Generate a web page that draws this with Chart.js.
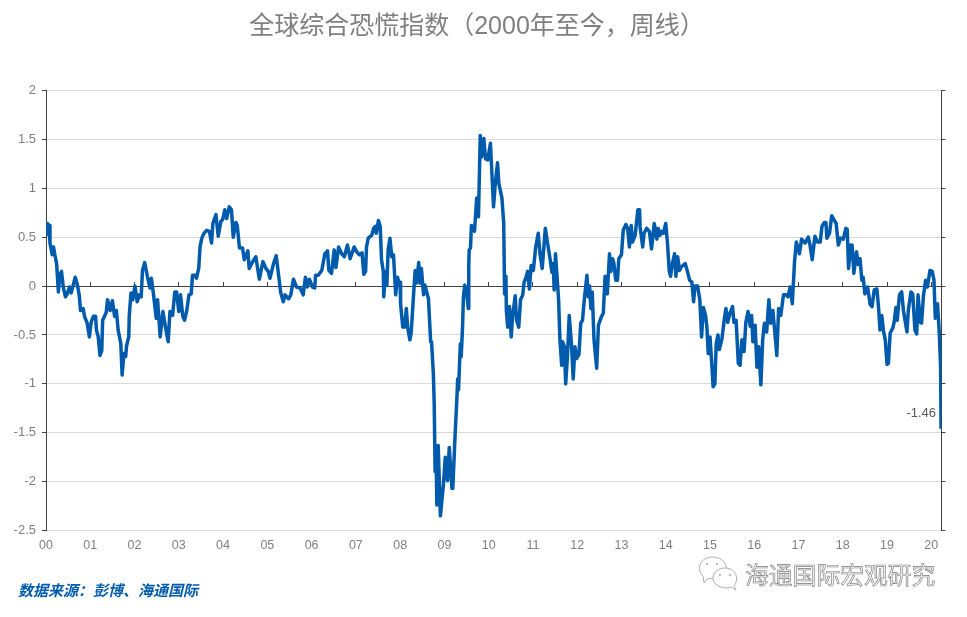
<!DOCTYPE html>
<html>
<head>
<meta charset="utf-8">
<title>全球综合恐慌指数</title>
<script src="https://cdn.jsdelivr.net/npm/chart.js@4"></script>
<style>
  body { margin: 0; background: #fff; }
  #wrap { position: relative; width: 967px; height: 617px; overflow: hidden; }
  #chart { position: absolute; left: 0; top: 0; }
  .chart-title { position: absolute; left: 0; width: 954px; top: 5px; text-align: center; font: 25px "Liberation Sans", "Noto Sans CJK SC", sans-serif; color: #7f7f7f; white-space: nowrap; }
  .source { position: absolute; left: 18px; top: 579px; font: italic bold 15px "Noto Sans CJK SC", sans-serif; color: #005bac; white-space: nowrap; }
  .mark { position: absolute; left: 745px; top: 556px; font: 23.8px "Noto Sans CJK SC", sans-serif; color: #f4f4f4; -webkit-text-stroke: 0.6px #777; white-space: nowrap; }
  .mark-icon { position: absolute; left: 695px; top: 549px; }
</style>
</head>
<body>
<div id="wrap">
  <canvas id="chart" width="967" height="617"></canvas>
  <div class="chart-title">全球综合恐慌指数（2000年至今，周线）</div>
  <div class="source">数据来源：彭博、海通国际</div>
  <svg class="mark-icon" width="46" height="44" fill="#fff" stroke="#999" stroke-width="0.8">
    <path d="M 8 27 C 2 22 3 9 17 8 C 28 8 33 16 31 22 L 24 28 L 12 30 L 9 34 Z"/>
    <path d="M 39 37 C 44 31 42 19 30 19 C 20 19 16 28 19 33 C 23 39 32 40 36 38 L 41 41 Z"/>
    <circle cx="12" cy="15" r="0.7"/><circle cx="22" cy="15" r="0.7"/>
    <circle cx="25" cy="26" r="0.7"/><circle cx="35" cy="26" r="0.7"/>
  </svg>
  <div class="mark">海通国际宏观研究</div>
</div>
<script>
// 横轴：年份（00 = 2000年），纵轴：恐慌指数
const yearLabels = ['00','01','02','03','04','05','06','07','08','09','10','11','12','13','14','15','16','17','18','19','20'];
const yearMax = 20.23;

const indexYears = [
  0,.03,.07,.09,.14,.17,.20,.24,.28,.31,.35,.39,.44,.48,.53,.57,.66,.71,.75,.78,.84,.87,.93,.98,
  1.02,1.07,1.12,1.14,1.18,1.22,1.26,1.28,1.36,1.39,1.45,1.50,1.55,1.59,1.63,1.69,1.72,1.76,1.80,1.82,1.87,1.88,1.92,1.96,
  2.01,2.06,2.11,2.15,2.18,2.23,2.29,2.35,2.38,2.43,2.49,2.52,2.58,2.64,2.70,2.76,2.80,2.86,2.91,2.95,
  3.00,3.04,3.09,3.13,3.18,3.23,3.28,3.31,3.37,3.40,3.45,3.48,3.52,3.57,3.63,3.69,3.74,3.77,3.80,3.84,3.89,3.95,3.99,
  4.04,4.08,4.14,4.19,4.23,4.29,4.32,4.37,4.44,4.48,4.56,4.59,4.67,4.74,4.82,4.90,4.97,
  5.02,5.06,5.14,5.20,5.25,5.30,5.36,5.40,5.48,5.53,5.59,5.66,5.74,5.81,5.86,5.90,5.95,
  6.02,6.07,6.09,6.15,6.23,6.30,6.36,6.39,6.45,6.51,6.55,6.61,6.68,6.74,6.81,6.87,6.96,
  7.02,7.08,7.14,7.18,7.22,7.24,7.28,7.36,7.40,7.44,7.46,7.51,7.55,7.58,7.62,7.63,7.67,7.70,7.73,7.77,7.81,7.85,7.90,7.94,7.98,
  8.00,8.01,8.06,8.10,8.14,8.17,8.22,8.25,8.30,8.34,8.37,8.42,8.45,8.48,8.53,8.56,8.60,8.64,8.69,8.71,8.75,8.77,8.79,8.81,8.83,8.86,8.91,8.98,
  9.02,9.07,9.11,9.17,9.19,9.24,9.28,9.30,9.32,9.36,9.38,9.41,9.43,9.46,9.50,9.54,9.55,9.56,9.59,9.61,9.68,9.73,9.77,9.81,9.84,9.89,9.93,9.98,
  10.04,10.08,10.11,10.15,10.20,10.23,10.30,10.34,10.36,10.39,10.40,10.43,10.47,10.51,10.54,10.60,10.63,10.68,10.72,10.77,10.80,10.84,10.88,10.92,10.96,
  11.01,11.06,11.12,11.16,11.21,11.28,11.33,11.39,11.43,11.46,11.48,11.51,11.55,11.58,11.61,11.65,11.67,11.71,11.74,11.78,11.82,11.87,11.91,11.95,11.99,
  12.04,12.08,12.12,12.16,12.22,12.25,12.28,12.31,12.34,12.38,12.44,12.48,12.55,12.59,12.63,12.68,12.73,12.76,12.80,12.83,12.87,12.91,12.94,
  13.00,13.04,13.10,13.14,13.18,13.22,13.25,13.31,13.37,13.41,13.42,13.48,13.51,13.57,13.63,13.68,13.74,13.80,13.83,13.87,13.91,13.95,
  14.00,14.04,14.08,14.11,14.15,14.20,14.23,14.27,14.31,14.36,14.44,14.49,14.54,14.59,14.63,14.66,14.72,14.77,14.81,14.85,14.90,14.93,14.96,
  15.00,15.04,15.07,15.11,15.14,15.18,15.21,15.27,15.32,15.36,15.40,15.45,15.51,15.54,15.59,15.64,15.68,15.72,15.77,15.81,15.86,15.91,15.94,15.97,
  16.02,16.06,16.10,16.15,16.19,16.23,16.28,16.33,16.37,16.42,16.46,16.51,16.55,16.60,16.66,16.72,16.76,16.81,16.86,16.91,16.95,
  17.02,17.07,17.15,17.22,17.26,17.31,17.37,17.43,17.49,17.53,17.58,17.62,17.64,17.70,17.75,17.80,17.85,17.90,17.95,
  18.01,18.07,18.10,18.13,18.18,18.21,18.25,18.31,18.35,18.39,18.43,18.46,18.50,18.56,18.62,18.66,18.71,18.77,18.81,18.84,18.88,18.92,18.96,
  19.00,19.03,19.07,19.13,19.16,19.20,19.23,19.28,19.33,19.37,19.45,19.48,19.54,19.58,19.63,19.67,19.70,19.75,19.78,19.82,19.87,19.91,19.97,
  20.02,20.06,20.09,20.14,20.18,20.21,20.22
];

const indexValues = [
  .51,.64,.62,.44,.32,.40,.32,.23,-.06,.11,.15,-.01,-.11,-.08,-.01,-.07,.09,.01,-.09,-.25,-.23,-.31,-.38,-.52,
  -.37,-.31,-.31,-.45,-.52,-.71,-.66,-.35,-.27,-.14,-.25,-.15,-.31,-.25,-.45,-.59,-.91,-.69,-.72,-.61,-.52,-.31,-.07,-.14,
  0,-.16,-.09,-.11,.16,.24,.10,-.02,.08,-.09,-.33,-.14,-.52,-.26,-.42,-.57,-.26,-.30,-.06,-.06,
  -.26,-.09,-.31,-.35,-.25,-.09,-.08,.11,.11,.08,.18,.40,.49,.54,.57,.56,.44,.64,.68,.73,.51,.66,.68,
  .78,.69,.81,.78,.50,.65,.62,.39,.39,.27,.36,.18,.25,.30,.07,.25,.18,
  .15,.08,.23,.31,.13,-.06,-.16,-.09,-.13,-.09,.07,-.01,-.02,-.09,.09,-.01,.07,
  -.01,-.02,.11,.11,.16,.33,.36,.16,.13,.37,.19,.40,.33,.30,.42,.28,.40,
  .35,.32,.34,.12,.15,.40,.49,.52,.59,.61,.54,.67,.61,.27,.15,-.11,.15,.01,.37,.49,.30,.32,-.09,.09,.03,
  .04,-.18,-.42,-.42,-.23,-.42,-.55,-.48,-.11,.16,.03,.24,.03,.18,-.09,.01,-.06,-.13,-.57,-.57,-.89,-1.20,-1.90,-1.63,-2.24,-1.63,-2.35,-2.02,
  -1.75,-1.99,-1.65,-2.07,-2.07,-1.54,-1.17,-.95,-1.06,-.59,-.72,-.42,-.11,.01,-.06,-.23,.20,.37,.39,.62,.56,.90,.71,1.54,1.32,1.51,1.30,1.29,
  1.46,1.09,.81,1.05,1.26,1.05,.90,.64,-.08,.10,-.25,-.42,-.21,-.52,-.31,-.10,-.35,-.42,-.14,-.09,.04,.08,.15,-.03,.21,
  .16,.39,.54,.33,.18,.59,.44,.27,.14,.23,-.04,.33,.06,-.14,-.55,-.81,-.57,-.62,-1.00,-.72,-.30,-.59,-.95,-.62,-.74,
  -.70,-.38,-.35,-.14,.11,-.11,0,-.23,-.06,-.55,-.84,-.40,-.31,-.28,.10,-.08,.33,.15,.28,.23,.06,.06,.28,
  .32,.57,.63,.59,.40,.62,.45,.52,.78,.78,.61,.40,.54,.59,.56,.38,.64,.48,.59,.52,.56,.54,
  .64,.44,.15,.10,.23,.33,.10,.30,.16,.20,.23,.15,.06,.04,-.16,0,0,-.14,-.52,-.22,-.30,-.42,-.69,
  -.52,-.79,-1.03,-1.00,-.59,-.50,-.65,-.54,-.35,-.23,-.37,-.28,-.21,-.37,-.35,-.79,-.81,-.55,-.67,-.37,-.26,-.41,-.30,-.57,
  -.40,-.83,-.62,-1.01,-.55,-.38,-.47,-.14,-.38,-.25,-.45,-.71,-.23,-.30,-.09,-.09,-.11,-.01,-.18,.25,.45,
  .33,.48,.44,.50,.42,.27,.51,.45,.45,.61,.65,.65,.49,.54,.72,.68,.64,.42,.49,
  .48,.59,.58,.18,.42,.42,.13,.35,.22,.28,.06,.09,-.08,-.01,-.19,-.21,-.04,-.03,-.23,-.45,-.30,-.46,-.55,
  -.80,-.79,-.48,-.43,-.37,-.22,-.35,-.09,-.06,-.25,-.47,-.25,-.06,-.08,-.45,-.49,-.09,-.37,-.38,-.11,.06,-.01,.16,
  .15,.06,-.33,-.18,-.48,-.83,-1.46
];

const LINE_COLOR = '#005bac';
const AXIS_COLOR = '#404040';
const GRID_COLOR = '#d9d9d9';
const TEXT_COLOR = '#7f7f7f';

// 最后一个点的数值标注
const endLabel = {
  id: 'endLabel',
  afterDatasetsDraw(chart) {
    const pts = chart.getDatasetMeta(0).data;
    const last = pts[pts.length - 1];
    const ctx = chart.ctx;
    ctx.save();
    ctx.font = '13px "Liberation Sans"';
    ctx.fillStyle = '#595959';
    ctx.textAlign = 'right';
    ctx.textBaseline = 'middle';
    ctx.fillText(indexValues[indexValues.length - 1].toFixed(2), last.x - 5, last.y - 15);
    ctx.restore();
  }
};

new Chart(document.getElementById('chart'), {
  type: 'line',
  data: {
    datasets: [{
      data: indexYears.map((x, i) => ({ x, y: indexValues[i] })),
      borderColor: LINE_COLOR,
      borderWidth: 3.5,
      pointRadius: 0,
      tension: 0,
      borderJoinStyle: 'round',
      xAxisID: 'x',
      yAxisID: 'y',
    }],
  },
  plugins: [endLabel],
  options: {
    responsive: false,
    animation: false,
    devicePixelRatio: 1,
    layout: { padding: { top: 90.5, left: 0, right: 0, bottom: 0 } },
    plugins: { legend: { display: false }, tooltip: { enabled: false } },
    scales: {
      x: {
        type: 'linear',
        min: 0,
        max: yearMax,
        afterFit: (s) => { s.height = 86.5; },
        grid: { display: false },
        border: { display: false },
        ticks: {
          stepSize: 1,
          includeBounds: false,
          autoSkip: false,
          maxRotation: 0,
          padding: 0,
          color: TEXT_COLOR,
          font: { family: '"Liberation Sans"', size: 12.5 },
          callback: (v) => yearLabels[v],
        },
      },
      // 零轴上的年份刻度
      xZero: {
        type: 'linear',
        axis: 'x',
        position: { y: 0 },
        min: 0,
        max: yearMax,
        border: { display: false },
        grid: { drawOnChartArea: false, tickLength: -4, tickColor: AXIS_COLOR },
        ticks: { stepSize: 1, includeBounds: false, autoSkip: false, display: false },
      },
      y: {
        position: 'left',
        min: -2.5,
        max: 2,
        afterFit: (s) => { s.width = 46; },
        border: { color: AXIS_COLOR },
        grid: {
          color: (c) => (c.tick && c.tick.value === 0 ? AXIS_COLOR : GRID_COLOR),
          tickColor: AXIS_COLOR,
          tickLength: 4,
        },
        ticks: {
          stepSize: 0.5,
          padding: 6,
          color: TEXT_COLOR,
          font: { family: '"Liberation Sans"', size: 13 },
          callback: (v) => String(v),
        },
      },
      yRight: {
        position: 'right',
        min: -2.5,
        max: 2,
        afterFit: (s) => { s.width = 25.5; },
        border: { color: AXIS_COLOR },
        grid: { drawOnChartArea: false, tickColor: AXIS_COLOR, tickLength: 4 },
        ticks: { stepSize: 0.5, callback: () => '' },
      },
    },
  },
});
</script>
</body>
</html>
